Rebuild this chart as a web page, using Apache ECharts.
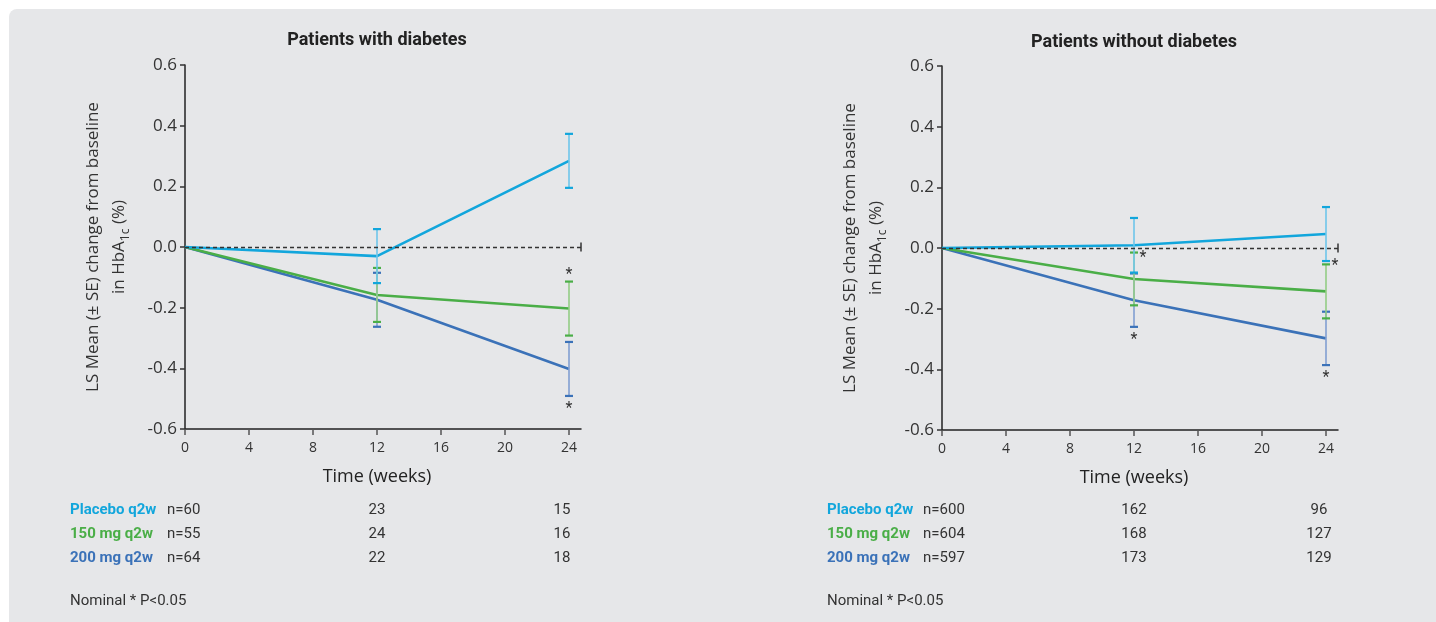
<!DOCTYPE html>
<html>
<head>
<meta charset="utf-8">
<script src="https://cdn.jsdelivr.net/npm/echarts@6/dist/echarts.min.js"></script>
<style>
html,body{margin:0;padding:0;background:#ffffff;}
#bg{position:absolute;left:9px;top:9px;width:1440px;height:630px;background:#e6e7e9;border-radius:8px;}
#c{position:absolute;left:0;top:0;width:1436px;height:622px;}
</style>
</head>
<body>
<div id="bg"></div>
<div id="c"></div>
<script>
// ---------- data ----------
const weeks = [0, 12, 24];
const xTicks = [0, 4, 8, 12, 16, 20, 24];
const groupNames = ['Placebo q2w', '150 mg q2w', '200 mg q2w'];
const panelTitles = ['Patients with diabetes', 'Patients without diabetes'];
const yAxisLine1 = 'LS Mean (\u00B1 SE) change from baseline';
const xAxisTitle = 'Time (weeks)';
const footnote = 'Nominal * P<0.05';

// Patients with diabetes
const diabPlaceboMean = [0, -0.030, 0.284];
const diabPlaceboSE   = [0, 0.089, 0.089];
const diab150Mean     = [0, -0.158, -0.203];
const diab150SE       = [0, 0.089, 0.089];
const diab200Mean     = [0, -0.174, -0.402];
const diab200SE       = [0, 0.089, 0.089];

// Patients without diabetes
const nondPlaceboMean = [0, 0.009, 0.046];
const nondPlaceboSE   = [0, 0.090, 0.089];
const nond150Mean     = [0, -0.102, -0.143];
const nond150SE       = [0, 0.087, 0.089];
const nond200Mean     = [0, -0.172, -0.298];
const nond200SE       = [0, 0.088, 0.088];

// nominal significance markers: [week, group index, position relative to the error bar]
const diabStars = [[24, 1, 'above'], [24, 2, 'below']];
const nondStars = [[12, 1, 'upper-right'], [12, 2, 'below'], [24, 0, 'lower-right'], [24, 2, 'below']];

// numbers at risk per week
const diabN = [['n=60', '23', '15'], ['n=55', '24', '16'], ['n=64', '22', '18']];
const nondN = [['n=600', '162', '96'], ['n=604', '168', '127'], ['n=597', '173', '129']];

// ---------- style ----------
const colors = ['#12a6dc', '#4aae47', '#3b72b8'];
const lightColors = ['#6ec6ea', '#93cd85', '#819fd1'];
const textColor = '#333333';
const axisFont = 'Open Sans';
const tableFont = 'Roboto';

const panels = [
  { means: [diabPlaceboMean, diab150Mean, diab200Mean], ses: [diabPlaceboSE, diab150SE, diab200SE], stars: diabStars, n: diabN },
  { means: [nondPlaceboMean, nond150Mean, nond200Mean], ses: [nondPlaceboSE, nond150SE, nond200SE], stars: nondStars, n: nondN }
];

const grids = [
  { left: 185, top: 65, width: 396, height: 364 },
  { left: 942, top: 66, width: 396, height: 364 }
];

const xAxes = grids.map((g, i) => ({
  type: 'value', gridIndex: i, min: 0, max: 24.75,
  axisLine: { onZero: false, lineStyle: { color: '#222', width: 1.5 } },
  axisTick: { customValues: xTicks, length: 6, lineStyle: { color: '#555', width: 1.5 } },
  axisLabel: { customValues: xTicks, color: textColor, fontSize: 14, fontFamily: axisFont, margin: 12 },
  splitLine: { show: false },
  name: xAxisTitle, nameLocation: 'middle', nameGap: 39,
  nameTextStyle: { color: '#222', fontSize: 18, fontFamily: axisFont, padding: [0, 12, 0, 0] }
}));

const yAxes = grids.map((g, i) => ({
  type: 'value', gridIndex: i, min: -0.6, max: 0.6, interval: 0.2,
  axisLine: { show: true, onZero: false, lineStyle: { color: '#222', width: 1.5 } },
  axisTick: { show: true, length: 5, lineStyle: { color: '#333', width: 1.5 } },
  axisLabel: { color: textColor, fontSize: 17, fontFamily: axisFont, margin: 8,
    formatter: v => (Math.abs(v) < 1e-9 ? 0 : v).toFixed(1) },
  splitLine: { show: false },
  name: '{a|' + yAxisLine1 + '}\n{a|in HbA}{s|1c}{a| (%)}',
  nameLocation: 'middle', nameGap: 53, nameRotate: 90,
  nameTextStyle: {
    color: textColor,
    rich: {
      a: { fontSize: 17, fontFamily: axisFont, color: textColor, lineHeight: 26 },
      s: { fontSize: 12, fontFamily: axisFont, color: textColor, lineHeight: 14, verticalAlign: 'bottom' }
    }
  }
}));

const series = [];
panels.forEach((p, pi) => {
  [2, 1, 0].forEach(gi => {
    const s = {
      type: 'line', xAxisIndex: pi, yAxisIndex: pi,
      data: weeks.map((w, k) => [w, p.means[gi][k]]),
      symbol: 'none', lineStyle: { color: colors[gi], width: 2.6 }, z: 3, silent: true
    };
    if (gi === 0) {
      s.markLine = {
        silent: true, symbol: ['none', 'rect'], symbolSize: [9, 1.5],
        label: { show: false },
        lineStyle: { color: '#333', type: [4, 3], width: 1.3 },
        itemStyle: { color: '#333' },
        data: [{ yAxis: 0 }]
      };
    }
    series.push(s);
  });
  [2, 1, 0].forEach(gi => {
    const data = [];
    weeks.forEach((w, k) => {
      if (p.ses[gi][k] > 0) data.push([w, p.means[gi][k] - p.ses[gi][k], p.means[gi][k] + p.ses[gi][k]]);
    });
    series.push({
      type: 'custom', xAxisIndex: pi, yAxisIndex: pi, z: 4, silent: true,
      data: data,
      renderItem: (params, api) => {
        const x = api.value(0);
        const lo = api.coord([x, api.value(1)]);
        const hi = api.coord([x, api.value(2)]);
        return {
          type: 'group', children: [
            { type: 'line', shape: { x1: lo[0], y1: lo[1], x2: hi[0], y2: hi[1] }, style: { stroke: lightColors[gi], lineWidth: 1.6 } },
            { type: 'line', shape: { x1: lo[0] - 4, y1: lo[1], x2: lo[0] + 4, y2: lo[1] }, style: { stroke: colors[gi], lineWidth: 2.2 } },
            { type: 'line', shape: { x1: hi[0] - 4, y1: hi[1], x2: hi[0] + 4, y2: hi[1] }, style: { stroke: colors[gi], lineWidth: 2.2 } }
          ]
        };
      }
    });
  });
  const starData = p.stars.map(s => {
    const k = weeks.indexOf(s[0]);
    const m = p.means[s[1]][k], e = p.ses[s[1]][k];
    const val = (s[2] === 'above' || s[2] === 'upper-right') ? m + e : m - e;
    return [s[0], val, s[2]];
  });
  series.push({
    type: 'custom', xAxisIndex: pi, yAxisIndex: pi, z: 5, silent: true,
    data: starData,
    dimensions: ['x', 'y', { name: 'pos', type: 'ordinal' }],
    renderItem: (params, api) => {
      const d = starData[params.dataIndex];
      const c = api.coord([d[0], d[1]]);
      let dx = 0, dy = 0;
      if (d[2] === 'above') dy = -7;
      else if (d[2] === 'below') dy = 13;
      else { dx = 9; dy = 5; }
      return { type: 'text', x: c[0] + dx, y: c[1] + dy,
        style: { text: '*', fill: textColor, font: '16px ' + tableFont, align: 'center', verticalAlign: 'middle' } };
    }
  });
});

const chart = echarts.init(document.getElementById('c'));
chart.setOption({
  animation: false,
  backgroundColor: 'transparent',
  grid: grids,
  xAxis: xAxes,
  yAxis: yAxes,
  series: series
});

const graphic = [];
const rowY = [510, 534, 558];
const labelX = [70, 827];
const nX = [167, 923];
panels.forEach((p, pi) => {
  const x0 = chart.convertToPixel({ xAxisIndex: pi }, 0);
  const x12 = chart.convertToPixel({ xAxisIndex: pi }, 12);
  const x24 = chart.convertToPixel({ xAxisIndex: pi }, 24);
  graphic.push({ type: 'text', x: (x0 + x24) / 2, y: pi === 0 ? 40 : 42,
    style: { text: panelTitles[pi], font: 'bold 18px ' + tableFont, fill: '#222', align: 'center', verticalAlign: 'middle' } });
  groupNames.forEach((g, gi) => {
    graphic.push({ type: 'text', x: labelX[pi], y: rowY[gi],
      style: { text: g, font: 'bold 15px ' + tableFont, fill: colors[gi], align: 'left', verticalAlign: 'middle' } });
    graphic.push({ type: 'text', x: nX[pi], y: rowY[gi],
      style: { text: p.n[gi][0], font: '15px ' + tableFont, fill: textColor, align: 'left', verticalAlign: 'middle' } });
    graphic.push({ type: 'text', x: x12, y: rowY[gi],
      style: { text: p.n[gi][1], font: '15px ' + tableFont, fill: textColor, align: 'center', verticalAlign: 'middle' } });
    graphic.push({ type: 'text', x: x24 - 7, y: rowY[gi],
      style: { text: p.n[gi][2], font: '15px ' + tableFont, fill: textColor, align: 'center', verticalAlign: 'middle' } });
  });
  graphic.push({ type: 'text', x: labelX[pi], y: 601,
    style: { text: footnote, font: '15px ' + tableFont, fill: textColor, align: 'left', verticalAlign: 'middle' } });
});
chart.setOption({ graphic: graphic });
</script>
</body>
</html>
